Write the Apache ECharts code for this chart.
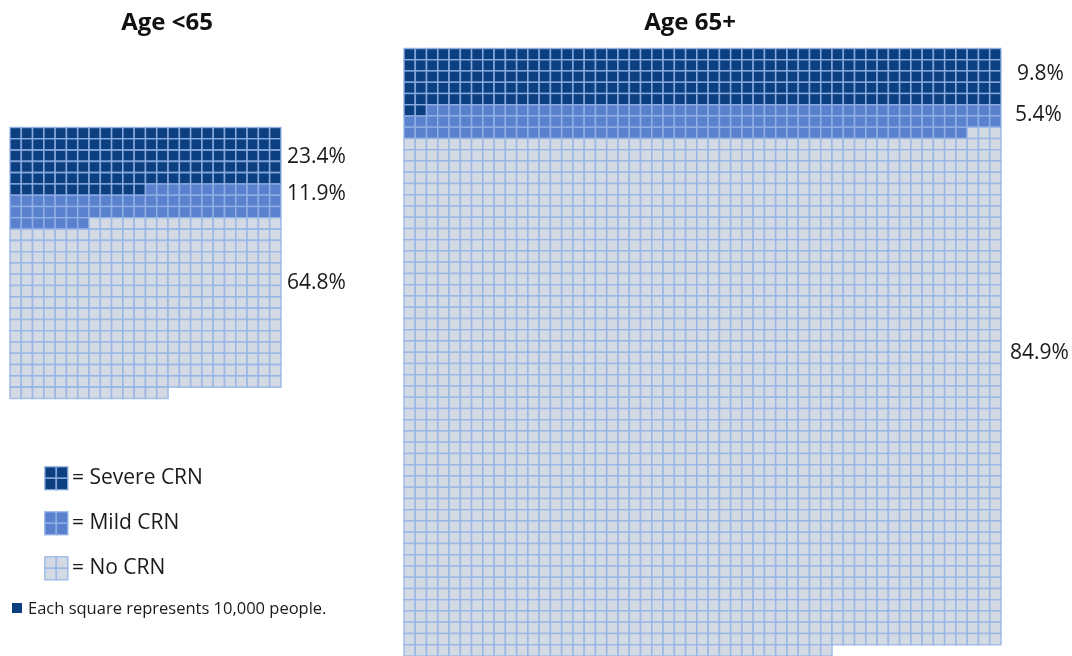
<!DOCTYPE html>
<html>
<head>
<meta charset="utf-8">
<script src="https://cdn.jsdelivr.net/npm/echarts@6/dist/echarts.min.js"></script>
<style>
html,body{margin:0;padding:0;background:#fff;}
#chart{width:1072px;height:656px;}
</style>
</head>
<body>
<div id="chart"></div>
<script>
// ---- data ----
const panelTitles = ['Age <65', 'Age 65+'];
const categories = ['Severe CRN', 'Mild CRN', 'No CRN'];
const countsUnder65 = [132, 67, 367];     // squares per category (1 square = 10,000 people)
const counts65Plus = [267, 154, 2426];
const columnsUnder65 = 24;
const columns65Plus = 53;
const pctUnder65 = ['23.4%', '11.9%', '64.8%'];
const pct65Plus = ['9.8%', '5.4%', '84.9%'];
const footnote = 'Each square represents 10,000 people.';

// ---- styles ----
const colors = ['#0b3f7f', '#5a81cd', '#d4dae4'];
const lineColor = 'rgba(148,179,230,0.8)';
const FONT = '"Open Sans", "DejaVu Sans", sans-serif';

function buildCells(counts, cols) {
  const out = [];
  let k = 0;
  counts.forEach((n, ci) => {
    for (let i = 0; i < n; i++) {
      out.push([k % cols, Math.floor(k / cols), ci]);
      k++;
    }
  });
  return out;
}

const cellsA = buildCells(countsUnder65, columnsUnder65);
const cellsB = buildCells(counts65Plus, columns65Plus);
const rowsA = Math.ceil(cellsA.length / columnsUnder65);
const rowsB = Math.ceil(cellsB.length / columns65Plus);

const cellA = 11.29, cellB = 11.264;

function renderCell(params, api) {
  const c = api.value(0), r = api.value(1), cat = api.value(2);
  const p0 = api.coord([c, r]);
  const p1 = api.coord([c + 1, r + 1]);
  const x = Math.min(p0[0], p1[0]), y = Math.min(p0[1], p1[1]);
  return {
    type: 'rect',
    shape: { x: x, y: y, width: Math.abs(p1[0] - p0[0]), height: Math.abs(p1[1] - p0[1]) },
    style: { fill: colors[cat], stroke: lineColor, lineWidth: 1.6 }
  };
}

const chart = echarts.init(document.getElementById('chart'), null, { renderer: 'canvas' });

// legend icons (2x2 small squares)
const graphics = [];
const legendY = [466, 511, 556];
const legendTextY = [477, 522, 567];
categories.forEach((name, i) => {
  for (let a = 0; a < 2; a++) for (let b = 0; b < 2; b++) {
    graphics.push({
      type: 'rect', left: 44 + a * 11.5, top: legendY[i] + b * 11.5,
      shape: { width: 11.5, height: 11.5 },
      style: { fill: colors[i], stroke: lineColor, lineWidth: 1.6 }
    });
  }
  graphics.push({
    type: 'text', x: 72, y: legendTextY[i] + 1,
    style: { text: '= ' + name, font: '21px ' + FONT, fill: '#1a1a1a', verticalAlign: 'middle' }
  });
});
graphics.push({
  type: 'rect', left: 12, top: 603, shape: { width: 10, height: 10 },
  style: { fill: colors[0] }
});
graphics.push({
  type: 'text', x: 28, y: 609,
  style: { text: footnote, font: '16.5px ' + FONT, fill: '#1a1a1a', verticalAlign: 'middle' }
});

// titles
graphics.push({ type: 'text', x: 167, y: 23, style: { text: panelTitles[0], font: 'bold 24px ' + FONT, fill: '#111', align: 'center', verticalAlign: 'middle' } });
graphics.push({ type: 'text', x: 690, y: 23, style: { text: panelTitles[1], font: 'bold 24px ' + FONT, fill: '#111', align: 'center', verticalAlign: 'middle' } });

// percentage labels
const pctAY = [157, 194, 283];
const pctBY = [74, 115, 353];
const pctBX = [1017, 1015, 1010];
pctUnder65.forEach((t, i) => graphics.push({ type: 'text', x: 287, y: pctAY[i], style: { text: t, font: '21px ' + FONT, fill: '#1a1a1a', verticalAlign: 'middle' } }));
pct65Plus.forEach((t, i) => graphics.push({ type: 'text', x: pctBX[i], y: pctBY[i], style: { text: t, font: '21px ' + FONT, fill: '#1a1a1a', verticalAlign: 'middle' } }));

chart.setOption({
  backgroundColor: '#fff',
  animation: false,
  grid: [
    { left: 10, top: 127.5, width: columnsUnder65 * cellA, height: rowsA * cellA },
    { left: 404, top: 48.5, width: columns65Plus * cellB, height: rowsB * cellB }
  ],
  xAxis: [
    { type: 'value', gridIndex: 0, min: 0, max: columnsUnder65, show: false },
    { type: 'value', gridIndex: 1, min: 0, max: columns65Plus, show: false }
  ],
  yAxis: [
    { type: 'value', gridIndex: 0, min: 0, max: rowsA, inverse: true, show: false },
    { type: 'value', gridIndex: 1, min: 0, max: rowsB, inverse: true, show: false }
  ],
  series: [
    { type: 'custom', xAxisIndex: 0, yAxisIndex: 0, data: cellsA, renderItem: renderCell, silent: true },
    { type: 'custom', xAxisIndex: 1, yAxisIndex: 1, data: cellsB, renderItem: renderCell, silent: true }
  ],
  graphic: graphics
});
</script>
</body>
</html>
